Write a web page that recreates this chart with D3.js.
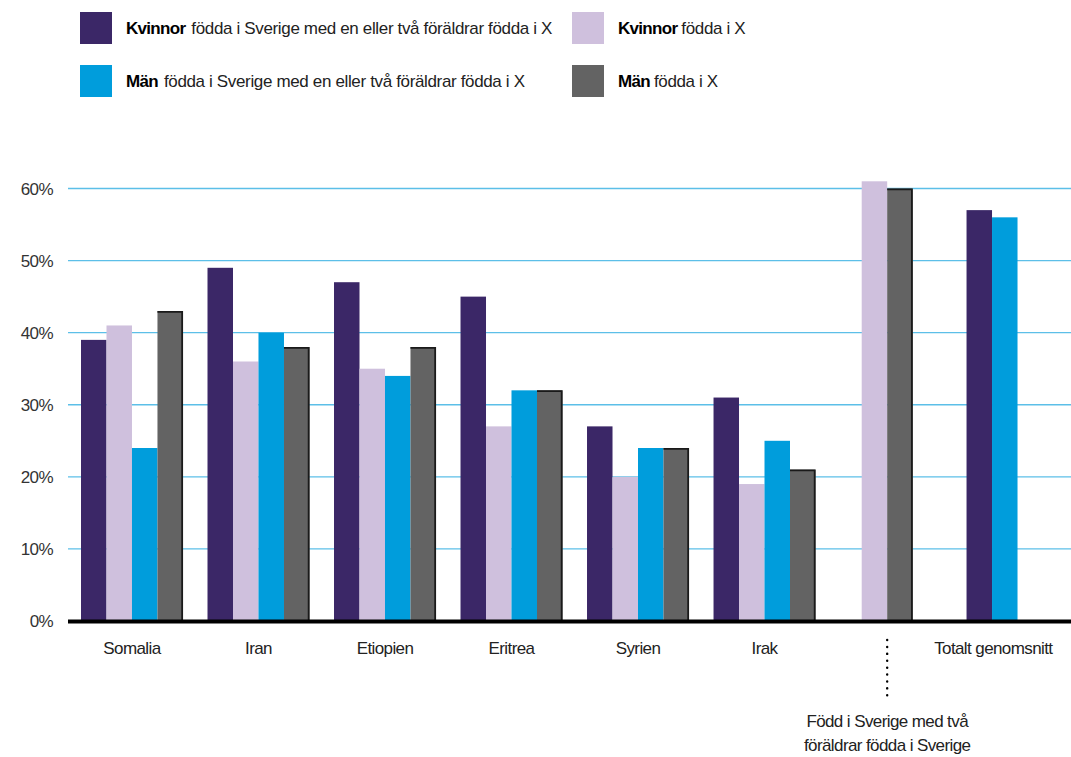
<!DOCTYPE html>
<html><head><meta charset="utf-8">
<script src="https://cdn.jsdelivr.net/npm/d3@7"></script>
<style>
body{margin:0;background:#fff;}
text{font-family:"Liberation Sans",Arial,sans-serif;}
</style></head>
<body>
<svg id="c" width="1071" height="757"></svg>
<script>
const categories = ["Somalia","Iran","Etiopien","Eritrea","Syrien","Irak","Född i Sverige med två föräldrar födda i Sverige","Totalt genomsnitt"];
const seriesKeys = ["kvSve","kvX","manSve","manX"];
const seriesBold = ["Kvinnor","Kvinnor","Män","Män"];
const seriesRest = ["födda i Sverige med en eller två föräldrar födda i X","födda i X","födda i Sverige med en eller två föräldrar födda i X","födda i X"];
const kvSve  = [39,49,47,45,27,31,null,57];
const kvX    = [41,36,35,27,20,19,61,null];
const manSve = [24,40,34,32,24,25,null,56];
const manX   = [43,38,38,32,24,21,60,null];
const yTicks = [0,10,20,30,40,50,60];
const colors = ["#3b2767","#cfc0dd","#009ddc","#636363"];

const values = [kvSve,kvX,manSve,manX];
const svg = d3.select("#c");
const x = d3.scaleBand().domain(categories).range([81,1068.5]).paddingInner(0.194).paddingOuter(0).align(0);
const xs = d3.scaleBand().domain(d3.range(4)).range([0,x.bandwidth()]);
const y = d3.scaleLinear().domain([0,60]).range([621,188.5]);

// gridlines
svg.append("g").selectAll("line").data(yTicks.filter(d=>d>0)).join("line")
  .attr("x1",68).attr("x2",1071).attr("y1",d=>y(d)).attr("y2",d=>y(d))
  .attr("stroke","#5cbfe8").attr("stroke-width",1.4);

// y labels
const yAxis = d3.axisLeft(y).tickValues(yTicks).tickFormat(d=>d+"%").tickSize(0).tickPadding(0);
const ya = svg.append("g").attr("transform","translate(53,0)").call(yAxis);
ya.select(".domain").remove();
ya.selectAll("text").attr("font-size",17).attr("fill","#333").attr("letter-spacing","-0.6").attr("dy","0.35em")
  .attr("font-family","'Liberation Sans',Arial,sans-serif");

// bars
categories.forEach((c,ci)=>{
  const present = seriesKeys.map((k,si)=>si).filter(si=>values[si][ci]!=null);
  const offset = present.length===2 && ci===6 ? xs.bandwidth()*0.85 : 0;
  present.forEach((si,j)=>{
    const slot = present.length===4 ? si : j;
    const v = values[si][ci];
    const bx = x(c)+offset+xs(slot);
    svg.append("rect").attr("x",bx).attr("y",y(v))
      .attr("width",xs.bandwidth()).attr("height",y(0)-y(v)).attr("fill",colors[si]);
    if(si===3){
      svg.append("path").attr("d",`M${bx},${y(v)+0.8}H${bx+xs.bandwidth()-0.8}V${y(0)}`)
        .attr("fill","none").attr("stroke","#1a1a1a").attr("stroke-width",1.8);
    }
  });
});

// baseline
svg.append("line").attr("x1",68).attr("x2",1071).attr("y1",y(0)+0.5).attr("y2",y(0)+0.5)
  .attr("stroke","#000").attr("stroke-width",4);

// x labels
categories.forEach((c,ci)=>{
  if(ci===6){
    const cx = x(c)+xs.bandwidth()*1.85;
    svg.append("line").attr("x1",cx).attr("x2",cx).attr("y1",640).attr("y2",701)
      .attr("stroke","#000").attr("stroke-width",2.4).attr("stroke-dasharray","0.1 6.8").attr("stroke-linecap","round");
    const t = svg.append("text").attr("text-anchor","middle").attr("font-size",17).attr("fill","#222").attr("letter-spacing","-0.6");
    t.append("tspan").attr("x",cx).attr("y",727).text("Född i Sverige med två");
    t.append("tspan").attr("x",cx).attr("y",751).text("föräldrar födda i Sverige");
  } else {
    const cx = ci===7 ? x(c)+xs.bandwidth()*1.05 : x(c)+x.bandwidth()/2;
    svg.append("text").attr("x",cx).attr("y",654).attr("text-anchor","middle")
      .attr("font-size",17).attr("fill","#222").attr("letter-spacing","-0.6").text(c);
  }
});

// legend
const legPos = [[80,12],[572,12],[80,65],[572,65]];
seriesKeys.forEach((k,i)=>{
  const [lx,ly] = legPos[i];
  svg.append("rect").attr("x",lx).attr("y",ly).attr("width",32).attr("height",32).attr("fill",colors[i]);
  const t = svg.append("text").attr("x",lx+46).attr("y",ly+22).attr("font-size",17).attr("fill","#222").attr("letter-spacing","-0.35");
  t.append("tspan").attr("font-weight","bold").attr("fill","#000").attr("letter-spacing","-0.7").text(seriesBold[i]);
  t.append("tspan").attr("dx", i%2===0 ? 6 : 4).text(seriesRest[i]);
});
</script>
</body></html>
